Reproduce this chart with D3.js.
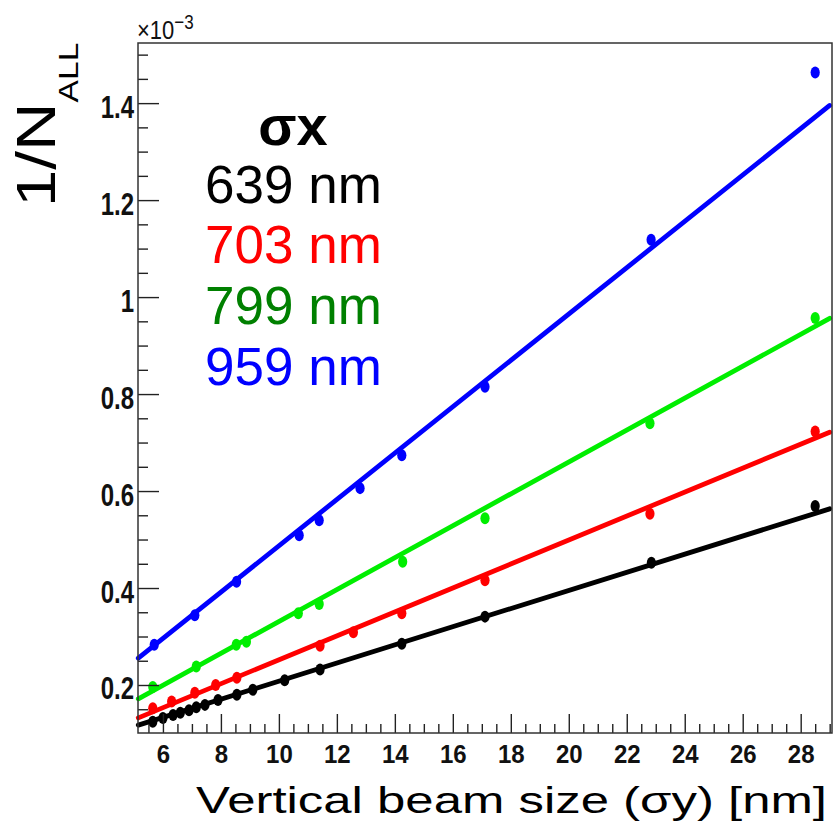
<!DOCTYPE html>
<html><head><meta charset="utf-8">
<script src="https://cdn.jsdelivr.net/npm/d3@7"></script>
<style>html,body{margin:0;padding:0;background:#fff;} svg{display:block;}</style>
</head><body><svg id="c" width="833" height="836"></svg>
<script>
// ---- data (1/N_ALL in units of 1e-3, sigma_y in nm) ----
const seriesNames = ["639 nm", "703 nm", "799 nm", "959 nm"];
const markerColors = ["#000000", "#ff0000", "#00ee00", "#0000ff"];
const legendColors = ["#000000", "#ff0000", "#008000", "#0000ff"];

const sy639 = [5.65, 6.0, 6.35, 6.6, 6.9, 7.15, 7.45, 7.9, 8.55, 9.1, 10.2, 11.42, 14.24, 17.11, 22.85, 28.5];
const inv639 = [0.124, 0.132, 0.138, 0.143, 0.148, 0.154, 0.159, 0.169, 0.180, 0.190, 0.210, 0.232, 0.285, 0.341, 0.452, 0.569];

const sy703 = [5.65, 6.3, 7.1, 7.82, 8.55, 11.42, 12.57, 14.24, 17.11, 22.8, 28.5];
const inv703 = [0.152, 0.166, 0.184, 0.200, 0.215, 0.281, 0.309, 0.348, 0.416, 0.553, 0.723];

const sy799 = [5.65, 7.15, 8.53, 8.88, 10.67, 11.39, 14.27, 17.11, 22.8, 28.5];
const inv799 = [0.196, 0.238, 0.283, 0.289, 0.348, 0.367, 0.454, 0.544, 0.740, 0.957];

const sy959 = [5.7, 7.1, 8.54, 10.7, 11.39, 12.8, 14.24, 17.11, 22.84, 28.5];
const inv959 = [0.283, 0.344, 0.413, 0.509, 0.540, 0.606, 0.674, 0.815, 1.118, 1.463];

// linear fit parameters
const fitSlope = [0.0187, 0.0247, 0.0329, 0.0478];
const fitIntercept = [0.021, 0.005, 0.002, 0.009];
const fitRange = [5.15, 29.0];

const xTicks = [6, 8, 10, 12, 14, 16, 18, 20, 22, 24, 26, 28];
const yTicks = [0.2, 0.4, 0.6, 0.8, 1.0, 1.2, 1.4];
const yTickLabels = ["0.2", "0.4", "0.6", "0.8", "1", "1.2", "1.4"];
const xTitle = "Vertical beam size (σy) [nm]";
const legendTitle = "σx";

// ---- layout ----
const svg = d3.select("#c");
const L = 138, R = 832, T = 43, B = 733;
const x = d3.scaleLinear().domain([5.14, 29.08]).range([L, R]);
const y = d3.scaleLinear().domain([0.101, 1.524]).range([B, T]);

const series = [
  {sx: sy639, v: inv639}, {sx: sy703, v: inv703},
  {sx: sy799, v: inv799}, {sx: sy959, v: inv959}
];

// minor tick values
const xMinor = d3.range(5.5, 29.01, 0.5).filter(v => !xTicks.some(t => Math.abs(t - v) < 1e-6));
const yMinor = d3.range(0.15, 1.52, 0.05).filter(v => !yTicks.some(t => Math.abs(t - v) < 1e-6));

// fit lines
const line = d3.line().x(d => x(d[0])).y(d => y(d[1]));
series.forEach((s, i) => {
  const pts = fitRange.map(sx => [sx, fitIntercept[i] + fitSlope[i] * sx]);
  svg.append("path").attr("d", line(pts)).attr("fill", "none")
    .attr("stroke", markerColors[i]).attr("stroke-width", 4.8).attr("stroke-linecap", "round");
});
// markers
series.forEach((s, i) => {
  svg.append("g").selectAll("ellipse").data(s.sx.map((sx, j) => [sx, s.v[j]])).join("ellipse")
    .attr("cx", d => x(d[0])).attr("cy", d => y(d[1]))
    .attr("rx", 4.6).attr("ry", 6).attr("fill", markerColors[i]);
});

// axes
const gx = svg.append("g").attr("transform", `translate(0,${B})`);
gx.call(d3.axisBottom(x).tickValues(xTicks).tickSize(-19).tickFormat(d3.format("d")));
const gxm = svg.append("g").attr("transform", `translate(0,${B})`);
gxm.call(d3.axisBottom(x).tickValues(xMinor).tickSize(-9).tickFormat(""));
const gy = svg.append("g").attr("transform", `translate(${L},0)`);
gy.call(d3.axisLeft(y).tickValues(yTicks).tickSize(-21).tickFormat((d, i) => yTickLabels[i]));
const gym = svg.append("g").attr("transform", `translate(${L},0)`);
gym.call(d3.axisLeft(y).tickValues(yMinor).tickSize(-10).tickFormat(""));
[gx, gxm, gy, gym].forEach(g => {
  g.select(".domain").remove();
  g.selectAll("line").attr("stroke", "#222").attr("stroke-width", 1.4);
});
gx.selectAll("text").attr("y", 0).attr("dy", 0)
  .attr("transform", "translate(0,30) scale(1,1.05)")
  .attr("font-family", "Liberation Sans, Arial, sans-serif").attr("font-weight", "bold")
  .attr("font-size", 24).attr("fill", "#111");
gy.selectAll("text").attr("x", 0).attr("dy", 0)
  .attr("transform", "translate(-4,14) scale(1,1.28)")
  .attr("text-anchor", "end")
  .attr("font-family", "Liberation Sans, Arial, sans-serif").attr("font-weight", "bold")
  .attr("font-size", 24).attr("fill", "#111");

// frame
svg.append("rect").attr("x", L).attr("y", T).attr("width", R - L).attr("height", B - T)
  .attr("fill", "none").attr("stroke", "#333").attr("stroke-width", 1.5);

// exponent label
const ex = svg.append("text").attr("transform", `translate(${L - 1},39) scale(1,1.2)`)
  .attr("font-family", "Liberation Sans, Arial, sans-serif").attr("font-size", 22).attr("fill", "#111");
ex.append("tspan").text("×10");
ex.append("tspan").attr("dy", -8).attr("font-size", 17).text("−3");

// y title
const yt = svg.append("text").attr("transform", "translate(55,207) rotate(-90) scale(1.2,1)")
  .attr("font-family", "Liberation Sans, Arial, sans-serif").attr("font-size", 56).attr("fill", "#000");
yt.append("tspan").text("1/N");
yt.append("tspan").attr("dy", 23).attr("font-size", 28).text("ALL");

// x title
svg.append("text").attr("x", 196).attr("y", 813)
  .attr("font-family", "Liberation Sans, Arial, sans-serif").attr("font-size", 37)
  .attr("textLength", 631).attr("lengthAdjust", "spacingAndGlyphs")
  .attr("fill", "#000").text(xTitle);

// legend
svg.append("text").attr("x", 293).attr("y", 145).attr("text-anchor", "middle")
  .attr("font-family", "Liberation Sans, Arial, sans-serif").attr("font-weight", "bold")
  .attr("font-size", 56).attr("fill", "#000").text(legendTitle);
const legY = [203, 263, 324, 385];
seriesNames.forEach((n, i) => {
  svg.append("text").attr("x", 205).attr("y", legY[i])
    .attr("font-family", "Liberation Sans, Arial, sans-serif").attr("font-size", 53)
    .attr("fill", legendColors[i]).text(n);
});
</script></body></html>
